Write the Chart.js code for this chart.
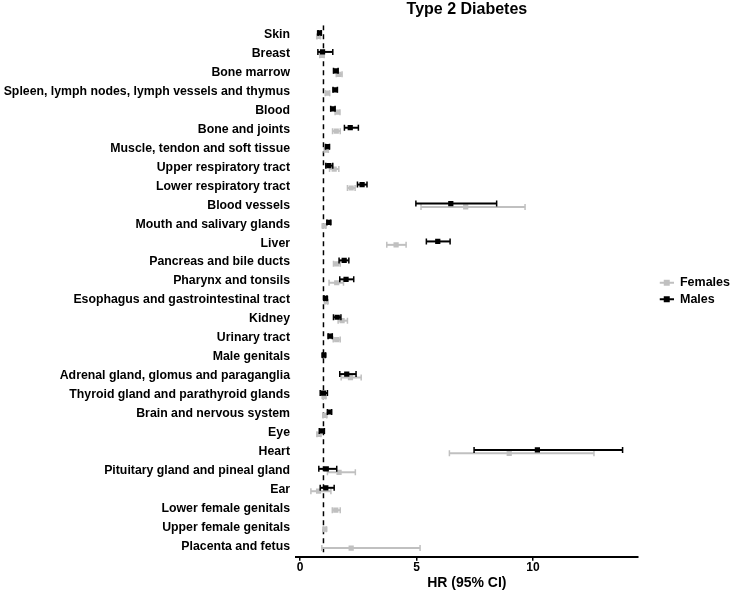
<!DOCTYPE html>
<html>
<head>
<meta charset="utf-8">
<script src="https://cdn.jsdelivr.net/npm/chart.js@4/dist/chart.umd.min.js"></script>
<style>
  body { margin: 0; background: #fff; }
  #wrap { width: 732px; height: 592px; }
</style>
</head>
<body>
<div id="wrap"><canvas id="forest"></canvas></div>
<script>
// tissue groups, top to bottom
const tissues = [
  'Skin', 'Breast', 'Bone marrow', 'Spleen, lymph nodes, lymph vessels and thymus', 'Blood',
  'Bone and joints', 'Muscle, tendon and soft tissue', 'Upper respiratory tract', 'Lower respiratory tract',
  'Blood vessels', 'Mouth and salivary glands', 'Liver', 'Pancreas and bile ducts', 'Pharynx and tonsils',
  'Esophagus and gastrointestinal tract', 'Kidney', 'Urinary tract', 'Male genitals',
  'Adrenal gland, glomus and paraganglia', 'Thyroid gland and parathyroid glands', 'Brain and nervous system',
  'Eye', 'Heart', 'Pituitary gland and pineal gland', 'Ear', 'Lower female genitals', 'Upper female genitals',
  'Placenta and fetus'
];

// hazard ratios with 95% CI (null = not estimated)
const femaleHR = [0.79, 0.93, 1.67, 1.17, 1.60, 1.55, 1.12, 1.46, 2.19, 7.11, 1.03, 4.12, 1.57, 1.57,
  1.12, 1.80, 1.57, null, 2.16, 1.03, 1.06, 0.80, 8.98, 1.67, 0.79, 1.53, 1.06, 2.19];
const femaleLo = [0.72, 0.84, 1.55, 1.08, 1.50, 1.39, 1.04, 1.26, 2.03, 5.19, 0.96, 3.72, 1.43, 1.24,
  1.06, 1.63, 1.42, null, 1.76, 0.96, 0.98, 0.72, 6.41, 1.17, 0.46, 1.38, 1.00, 0.93];
const femaleHi = [0.87, 1.03, 1.80, 1.27, 1.71, 1.72, 1.21, 1.66, 2.36, 9.66, 1.10, 4.55, 1.72, 1.86,
  1.18, 2.03, 1.72, null, 2.62, 1.10, 1.14, 0.89, 12.62, 2.37, 1.32, 1.72, 1.12, 5.15];

const maleHR = [0.83, 0.96, 1.53, 1.50, 1.40, 2.15, 1.17, 1.23, 2.66, 6.47, 1.23, 5.91, 1.89, 1.97,
  1.09, 1.59, 1.29, 1.02, 2.00, 1.00, 1.26, 0.93, 10.19, 1.12, 1.10, null, null, null];
const maleLo = [0.77, 0.76, 1.43, 1.41, 1.31, 1.90, 1.09, 1.10, 2.46, 4.97, 1.15, 5.42, 1.67, 1.70,
  1.03, 1.43, 1.20, 0.96, 1.70, 0.86, 1.17, 0.82, 7.47, 0.80, 0.86, null, null, null];
const maleHi = [0.90, 1.40, 1.63, 1.60, 1.50, 2.50, 1.26, 1.40, 2.87, 8.44, 1.31, 6.44, 2.09, 2.30,
  1.15, 1.75, 1.38, 1.08, 2.40, 1.17, 1.35, 1.04, 13.85, 1.57, 1.46, null, null, null];

const xTicks = [0, 5, 10];

const grey = 'rgb(192,192,192)';
const black = '#000';

function points(hr, lo, hi, shift) {
  const out = [];
  hr.forEach((v, i) => {
    if (v != null) out.push({ x: v, y: i + shift, lo: lo[i], hi: hi[i] });
  });
  return out;
}

// legend symbol: short line with a square on it, sitting at the right of a wide box
function legendIcon(color) {
  const c = document.createElement('canvas');
  c.width = 32; c.height = 10;
  const g = c.getContext('2d');
  g.fillStyle = color;
  g.fillRect(18, 4, 14, 2);
  g.fillRect(22, 2, 6, 6);
  return c;
}

// whiskers drawn just before each dataset's squares
const errorBars = {
  id: 'errorBars',
  beforeDatasetDraw(chart, args) {
    const ds = chart.data.datasets[args.index];
    if (!ds.ci) return;
    const xs = chart.scales.x, ys = chart.scales.y;
    const ctx = chart.ctx;
    ctx.save();
    ctx.strokeStyle = ds.borderColor;
    ds.data.forEach(p => {
      const y = ys.getPixelForValue(p.y);
      const x0 = xs.getPixelForValue(p.lo);
      const x1 = xs.getPixelForValue(p.hi);
      ctx.lineWidth = 2;
      ctx.beginPath();
      ctx.moveTo(x0, y); ctx.lineTo(x1, y);
      ctx.stroke();
      ctx.lineWidth = 1.5;
      ctx.beginPath();
      ctx.moveTo(x0, y - 3); ctx.lineTo(x0, y + 3);
      ctx.moveTo(x1, y - 3); ctx.lineTo(x1, y + 3);
      ctx.stroke();
    });
    ctx.restore();
  }
};

const yMin = -0.5, yMax = 27.55;

new Chart(document.getElementById('forest'), {
  type: 'scatter',
  data: {
    datasets: [
      {
        label: 'Females',
        ci: true,
        data: points(femaleHR, femaleLo, femaleHi, 0.09),
        backgroundColor: grey,
        borderColor: grey,
        pointStyle: 'rect',
        pointRadius: 3.7,
        pointBorderWidth: 0,
        order: 2
      },
      {
        label: 'Males',
        ci: true,
        data: points(maleHR, maleLo, maleHi, -0.09),
        backgroundColor: black,
        borderColor: black,
        pointStyle: 'rect',
        pointRadius: 3.7,
        pointBorderWidth: 0,
        order: 1
      },
      {
        label: 'ref',
        type: 'line',
        data: [{ x: 1, y: yMin }, { x: 1, y: yMax }],
        borderColor: black,
        borderWidth: 1.5,
        borderDash: [5, 4],
        pointRadius: 0,
        order: 3
      }
    ]
  },
  options: {
    responsive: true,
    maintainAspectRatio: false,
    animation: false,
    layout: { padding: { left: 0, right: -8, top: 0, bottom: 0 } },
    plugins: {
      title: {
        display: true,
        fullSize: false,
        text: 'Type 2 Diabetes',
        color: black,
        font: { family: 'Liberation Sans', size: 16, weight: 'bold' },
        padding: { top: 0, bottom: 6 }
      },
      legend: {
        position: 'right',
        fullSize: false,
        labels: {
          color: black,
          font: { family: 'Liberation Sans', size: 12.5, weight: 'bold' },
          usePointStyle: true,
          pointStyleWidth: 32,
          padding: 4,
          generateLabels(chart) {
            return chart.data.datasets.slice(0, 2).map((ds, i) => ({
              text: ds.label,
              pointStyle: legendIcon(ds.backgroundColor),
              fillStyle: ds.backgroundColor,
              strokeStyle: ds.backgroundColor,
              lineWidth: 0,
              hidden: false,
              datasetIndex: i,
              fontColor: black
            }));
          }
        }
      },
      tooltip: { enabled: false }
    },
    scales: {
      x: {
        type: 'linear',
        min: -0.18,
        max: 14.5,
        afterBuildTicks: axis => { axis.ticks = xTicks.map(v => ({ value: v })); },
        border: { display: true, color: black, width: 2 },
        grid: { drawOnChartArea: false, drawTicks: true, tickLength: 4, color: black, lineWidth: 1.5 },
        ticks: {
          color: black,
          padding: 0,
          maxRotation: 0,
          font: { family: 'Liberation Sans', size: 12, weight: 'bold' }
        },
        title: {
          display: true,
          text: 'HR (95% CI)',
          color: black,
          padding: { top: 0, bottom: 0 },
          font: { family: 'Liberation Sans', size: 14, weight: 'bold' }
        }
      },
      y: {
        type: 'linear',
        reverse: true,
        min: yMin,
        max: yMax,
        afterBuildTicks: axis => { axis.ticks = tissues.map((t, i) => ({ value: i })); },
        afterFit: axis => { axis.width = 296; },
        border: { display: false },
        grid: { display: false, drawTicks: false },
        ticks: {
          autoSkip: false,
          color: black,
          padding: 6,
          font: { family: 'Liberation Sans', size: 12.3, weight: 'bold' },
          callback: v => tissues[v]
        }
      }
    }
  },
  plugins: [errorBars]
});
</script>
</body>
</html>
